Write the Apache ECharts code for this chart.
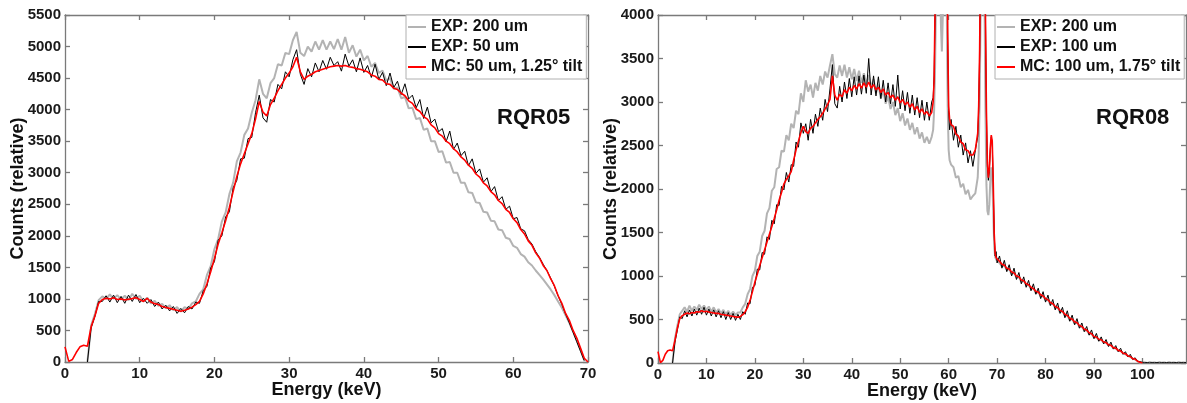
<!DOCTYPE html>
<html><head><meta charset="utf-8">
<script src="https://cdn.jsdelivr.net/npm/echarts@6/dist/echarts.min.js"></script>
<style>html,body{margin:0;padding:0;background:#fff}#c{width:1187px;height:403px}</style>
</head><body><div id="c"></div>
<script>
// ---------- LEFT PANEL (RQR05) ----------
const leftE = [
0,0.5,1,1.5,2,2.5,3,3.5,4,4.5,
5,5.5,6,6.5,7,7.5,8,8.5,9,9.5,
10,10.5,11,11.5,12,12.5,13,13.5,14,14.5,
15,15.5,16,16.5,17,17.5,18,18.5,19,19.5,
20,20.5,21,21.5,22,22.5,23,23.5,24,24.5,
25,25.5,26,26.5,27,27.5,28,28.5,29,29.5,
30,30.5,31,31.5,32,32.5,33,33.5,34,34.5,
35,35.5,36,36.5,37,37.5,38,38.5,39,39.5,
40,40.5,41,41.5,42,42.5,43,43.5,44,44.5,
45,45.5,46,46.5,47,47.5,48,48.5,49,49.5,
50,50.5,51,51.5,52,52.5,53,53.5,54,54.5,
55,55.5,56,56.5,57,57.5,58,58.5,59,59.5,
60,60.5,61,61.5,62,62.5,63,63.5,64,64.5,
65,65.5,66,66.5,67,67.5,68,68.5,69,69.5,
70];
const leftExp200 = [
null,null,null,null,null,null,0,580,760,980,
1040,1000,1070,1000,1060,990,1050,980,1080,1000,
1050,960,1020,930,970,890,920,850,900,820,
870,800,870,840,930,960,1080,1150,1380,1520,
1790,1950,2230,2370,2660,2840,3180,3320,3600,3700,
3950,4150,4480,4250,4180,4420,4500,4720,4700,4900,
4880,5100,5230,4900,4850,5000,4920,5080,4950,5100,
4950,5080,4960,5120,4950,5150,4900,5020,4840,4950,
4780,4850,4680,4740,4580,4620,4460,4500,4330,4350,
4180,4200,4020,4030,3850,3870,3680,3700,3500,3500,
3330,3340,3160,3170,3000,3000,2840,2840,2690,2680,
2530,2520,2380,2370,2240,2230,2100,2090,1970,1950,
1840,1810,1710,1670,1580,1530,1450,1380,1310,1230,
1150,1060,960,860,740,620,480,340,190,30,
null];
const leftExp50 = [
null,null,null,null,null,null,0,540,720,960,
960,1050,950,1060,940,1040,930,1060,960,1070,
940,1010,930,990,880,950,840,900,810,880,
770,850,780,880,840,950,930,1130,1200,1490,
1590,1930,2000,2300,2380,2760,2880,3220,3230,3540,
3560,3950,4230,3870,3800,4160,4120,4400,4330,4600,
4520,4790,4950,4560,4400,4650,4520,4740,4600,4780,
4640,4830,4700,4760,4610,4880,4690,4790,4600,4820,
4590,4700,4510,4720,4480,4590,4380,4580,4350,4450,
4240,4410,4170,4230,4030,4160,3860,4040,3790,3850,
3650,3700,3490,3660,3370,3470,3270,3340,3110,3220,
2990,3060,2850,2920,2700,2780,2560,2620,2420,2470,
2270,2290,2110,2080,1940,1870,1750,1660,1550,1450,
1330,1200,1050,910,760,620,470,320,170,20,
null];
const leftMC = [
240,10,40,150,240,265,250,560,730,930,
990,1010,1000,1020,990,1000,985,995,1005,1020,
990,960,1010,950,925,910,880,865,850,835,
820,805,820,840,870,910,960,1080,1240,1430,
1640,1870,2050,2240,2450,2700,2940,3140,3300,3460,
3620,3850,4130,3960,3900,4080,4180,4300,4400,4500,
4580,4680,4830,4600,4480,4530,4560,4600,4620,4640,
4660,4680,4690,4700,4690,4700,4680,4670,4650,4640,
4620,4600,4550,4530,4480,4470,4410,4400,4340,4320,
4260,4220,4140,4100,4010,3970,3890,3850,3760,3710,
3620,3580,3500,3460,3380,3330,3250,3200,3120,3070,
2980,2930,2840,2790,2700,2650,2560,2510,2420,2370,
2270,2210,2100,2030,1920,1850,1730,1650,1530,1450,
1320,1210,1050,930,770,660,500,380,220,60,
0];

// ---------- RIGHT PANEL (RQR08) ----------
const rightE = [
0,0.5,1,1.5,2,2.5,3,3.5,4,4.5,
5,5.5,6,6.5,7,7.5,8,8.5,9,9.5,
10,10.5,11,11.5,12,12.5,13,13.5,14,14.5,
15,15.5,16,16.5,17,17.5,18,18.5,19,19.5,
20,20.5,21,21.5,22,22.5,23,23.5,24,24.5,
25,25.5,26,26.5,27,27.5,28,28.5,29,29.5,
30,30.5,31,31.5,32,32.5,33,33.5,34,34.5,
35,35.5,36,36.5,37,37.5,38,38.5,39,39.5,
40,40.5,41,41.5,42,42.5,43,43.5,44,44.5,
45,45.5,46,46.5,47,47.5,48,48.5,49,49.5,
50,50.5,51,51.5,52,52.5,53,53.5,54,54.5,
55,55.5,56,56.5,
56.8,57,57.2,57.4,57.6,57.8,58,58.2,58.4,58.6,58.8,59,59.2,59.4,59.6,59.8,60,60.2,60.5,
61,61.5,62,62.5,63,63.5,64,64.5,65,65.5,66,
66.2,66.4,66.6,66.8,67,67.2,67.4,67.6,67.8,68,68.2,68.4,68.6,68.8,69,69.2,69.4,69.6,69.8,70,
70.5,71,71.5,72,72.5,73,73.5,74,74.5,75,
75.5,76,76.5,77,77.5,78,78.5,79,79.5,80,
80.5,81,81.5,82,82.5,83,83.5,84,84.5,85,
85.5,86,86.5,87,87.5,88,88.5,89,89.5,90,
90.5,91,91.5,92,92.5,93,93.5,94,94.5,95,
95.5,96,96.5,97,97.5,98,98.5,99,99.5,100,
100.5,101,101.5,102,102.5,103,103.5,104,104.5,105,
105.5,106,106.5,107,107.5,108,108.5,109];
const rightExp200 = [
null,null,null,null,null,null,0,280,430,560,
600,640,590,660,600,650,610,670,620,660,
610,650,590,640,580,620,570,610,560,600,
550,590,550,580,580,640,680,790,850,1000,
1060,1230,1280,1460,1520,1720,1780,1980,2020,2230,
2250,2440,2430,2620,2560,2750,2700,2900,2860,3100,
3000,3250,3120,3200,3050,3220,3130,3300,3200,3350,
3280,3420,3550,3320,3280,3420,3300,3430,3280,3400,
3260,3380,3240,3360,3220,3330,3200,3310,3160,3260,
3100,3200,3040,3140,2980,3070,2920,3000,2850,2930,
2780,2870,2730,2810,2680,2760,2630,2710,2580,2650,
2530,2600,2520,2600,
2680,2900,3400,4300,5600,6800,6500,4800,3900,3580,4000,5600,8200,6800,4200,2950,2450,2330,2280,
2250,2130,2150,2020,2060,1940,1990,1880,1920,1950,2130,
2400,3000,4000,6000,7500,6200,4200,2900,2050,1750,1700,1820,2100,2250,2150,1750,1350,1220,1190,1170,
1150,1110,1120,1070,1080,1020,1040,980,990,930,
950,890,900,850,860,800,820,760,770,720,
730,670,690,630,640,580,600,540,550,490,
510,450,470,410,420,370,380,330,340,290,
300,260,270,230,240,200,210,170,170,140,
140,110,100,80,70,50,40,20,5,0,
null,null,null,null,null,null,null,null,null,null,
null,null,null,null,null,null,null,null];
const rightExp100 = [
null,null,null,null,null,null,0,240,380,530,
510,600,530,610,540,620,550,630,560,640,
550,620,540,610,530,600,520,590,500,580,
500,570,490,560,500,590,560,690,680,870,
890,1080,1070,1270,1250,1450,1420,1640,1600,1820,
1810,2030,1990,2190,2080,2280,2260,2540,2480,2760,
2640,2750,2560,2800,2640,2860,2720,2930,2790,3030,
2890,3150,3430,2980,2930,3180,3000,3230,3040,3270,
3060,3290,3080,3300,3090,3310,3100,3500,3080,3300,
3070,3290,3040,3250,3000,3220,2980,3200,2950,3310,
2920,3130,2900,3110,2870,3080,2850,3050,2820,3020,
2790,3000,2790,3000,
3050,3300,4000,5300,7200,9300,9800,7800,5900,5100,6300,9300,12800,10800,5800,3700,2900,2680,2800,
2560,2720,2480,2620,2390,2530,2300,2440,2260,2440,2600,
2900,3550,4700,6900,8900,8400,5900,3950,2850,2260,2100,2200,2450,2600,2520,2080,1480,1230,1280,1150,
1230,1090,1180,1050,1130,1000,1090,960,1040,910,
990,870,950,830,910,790,860,740,820,700,
780,660,730,610,690,570,640,520,600,480,
550,440,510,400,460,360,420,320,380,280,
340,250,300,220,270,190,240,160,200,130,
170,100,130,70,100,40,60,20,15,8,
8,6,9,7,8,6,9,7,8,6,
9,7,8,6,9,7,8,6];
const rightMC = [
130,5,30,100,140,150,140,260,400,510,
545,560,575,565,580,575,590,585,600,590,
595,585,580,575,570,570,560,555,550,545,
540,535,530,525,535,555,590,640,720,820,
930,1020,1120,1210,1300,1390,1480,1570,1660,1760,
1870,1960,2060,2110,2150,2200,2330,2450,2550,2650,
2720,2660,2640,2700,2720,2760,2800,2830,2870,2920,
2970,3030,3300,3080,3020,3090,3060,3140,3100,3170,
3130,3190,3150,3210,3160,3220,3170,3230,3160,3200,
3140,3170,3110,3150,3080,3110,3050,3080,3020,3060,
2990,3030,2970,3000,2940,2980,2910,2950,2880,2920,
2860,2890,2840,2880,
3000,3250,4100,5500,7500,9500,10000,8000,6000,5200,6500,9500,13000,11000,6000,3800,2950,2800,2740,
2720,2630,2610,2540,2520,2450,2440,2390,2390,2450,2640,
2950,3600,4800,7000,9000,8500,6000,4000,2900,2300,2130,2230,2480,2620,2550,2100,1500,1260,1210,1190,
1170,1135,1125,1090,1080,1045,1035,1000,990,955,
945,910,900,870,855,825,815,785,770,740,
727,695,682,650,637,605,592,560,547,515,
504,473,462,431,420,389,378,347,336,305,
299,273,267,241,235,209,203,177,171,145,
139,113,107,81,75,50,45,20,10,0,
null,null,null,null,null,null,null,null,null,null,
null,null,null,null,null,null,null,null];

const leftNames = ['EXP: 200 um', 'EXP: 50 um', 'MC: 50 um, 1.25° tilt'];
const rightNames = ['EXP: 200 um', 'EXP: 100 um', 'MC: 100 um, 1.75° tilt'];
const panelTags = ['RQR05', 'RQR08'];
const xTitle = 'Energy (keV)';
const yTitle = 'Counts (relative)';

// ---------- chart ----------
const FONT = "'Liberation Sans', Arial, Helvetica, sans-serif";
const AX = '#7a7a7a';
const GREY = '#b3b3b3', BLACK = '#000000', RED = '#ff0000';

function pts(E, V) {
  const out = [];
  for (let i = 0; i < E.length; i++) if (V[i] !== null && V[i] !== undefined) out.push([E[i], V[i]]);
  return out;
}
function axis(o) {
  return {
    type: 'value', gridIndex: o.grid, position: o.pos, min: o.min, max: o.max, interval: o.interval,
    splitLine: { show: false },
    axisLine: { show: true, onZero: false, lineStyle: { color: AX, width: 1.3 } },
    axisTick: { show: true, inside: true, length: 5, lineStyle: { color: AX, width: 1.3 } },
    axisLabel: { show: !!o.labels, color: '#1a1a1a', fontFamily: FONT, fontWeight: 'bold', fontSize: 15,
                 margin: o.margin || 4, showMaxLabel: o.showMax !== false,
                 formatter: function (v) { return String(v); } },
    name: o.name || '', nameLocation: 'middle', nameGap: o.nameGap || 0, nameMoveOverlap: false,
    nameTextStyle: { fontFamily: FONT, fontWeight: 'bold', fontSize: 18, color: '#111' }
  };
}
function line(name, E, V, color, width, xi, yi) {
  return {
    type: 'line', name, data: pts(E, V), xAxisIndex: xi, yAxisIndex: yi,
    showSymbol: false, symbol: 'none', clip: true, animation: false,
    lineStyle: { color, width }, itemStyle: { color }, emphasis: { disabled: true }
  };
}
function legend(names, left) {
  return {
    data: names, orient: 'vertical', left, top: 15, icon: 'rect', itemWidth: 18, itemHeight: 2,
    itemGap: 2, padding: [3, 4, 3, 2], borderColor: '#b0b0b0', borderWidth: 1, backgroundColor: '#ffffff',
    selectedMode: false, z: 10,
    textStyle: { fontFamily: FONT, fontWeight: 'bold', fontSize: 16, color: '#111', lineHeight: 18 }
  };
}

const chart = echarts.init(document.getElementById('c'), null, { renderer: 'canvas' });
chart.setOption({
  backgroundColor: '#ffffff',
  animation: false,
  grid: [
    { left: 65, top: 15, width: 523, height: 347, containLabel: false, outerBoundsMode: 'none' },
    { left: 658, top: 15, width: 528, height: 348, containLabel: false, outerBoundsMode: 'none' }
  ],
  xAxis: [
    axis({ grid: 0, pos: 'bottom', min: 0, max: 70, interval: 10, labels: true, name: xTitle, nameGap: 19 }),
    axis({ grid: 0, pos: 'top', min: 0, max: 70, interval: 10 }),
    axis({ grid: 1, pos: 'bottom', min: 0, max: 109, interval: 10, labels: true, showMax: false, name: xTitle, nameGap: 19 }),
    axis({ grid: 1, pos: 'top', min: 0, max: 109, interval: 10 })
  ],
  yAxis: [
    axis({ grid: 0, pos: 'left', min: 0, max: 5500, interval: 500, labels: true, margin: 4, name: yTitle, nameGap: 38 }),
    axis({ grid: 0, pos: 'right', min: 0, max: 5500, interval: 500 }),
    axis({ grid: 1, pos: 'left', min: 0, max: 4000, interval: 500, labels: true, margin: 4, name: yTitle, nameGap: 38 }),
    axis({ grid: 1, pos: 'right', min: 0, max: 4000, interval: 500 })
  ],
  legend: [legend(leftNames, 406), legend(rightNames, 995)],
  title: [
    { text: panelTags[0], left: 497, top: 107, padding: 0,
      textStyle: { fontFamily: FONT, fontWeight: 'bold', fontSize: 22, color: '#111' } },
    { text: panelTags[1], left: 1096, top: 107, padding: 0,
      textStyle: { fontFamily: FONT, fontWeight: 'bold', fontSize: 22, color: '#111' } }
  ],
  series: [
    line(leftNames[0], leftE, leftExp200, GREY, 2, 0, 0),
    line(leftNames[1], leftE, leftExp50, BLACK, 1, 0, 0),
    line(leftNames[2], leftE, leftMC, RED, 1.6, 0, 0),
    line(rightNames[0], rightE, rightExp200, GREY, 2, 2, 2),
    line(rightNames[1], rightE, rightExp100, BLACK, 1, 2, 2),
    line(rightNames[2], rightE, rightMC, RED, 1.6, 2, 2)
  ]
});
</script></body></html>
